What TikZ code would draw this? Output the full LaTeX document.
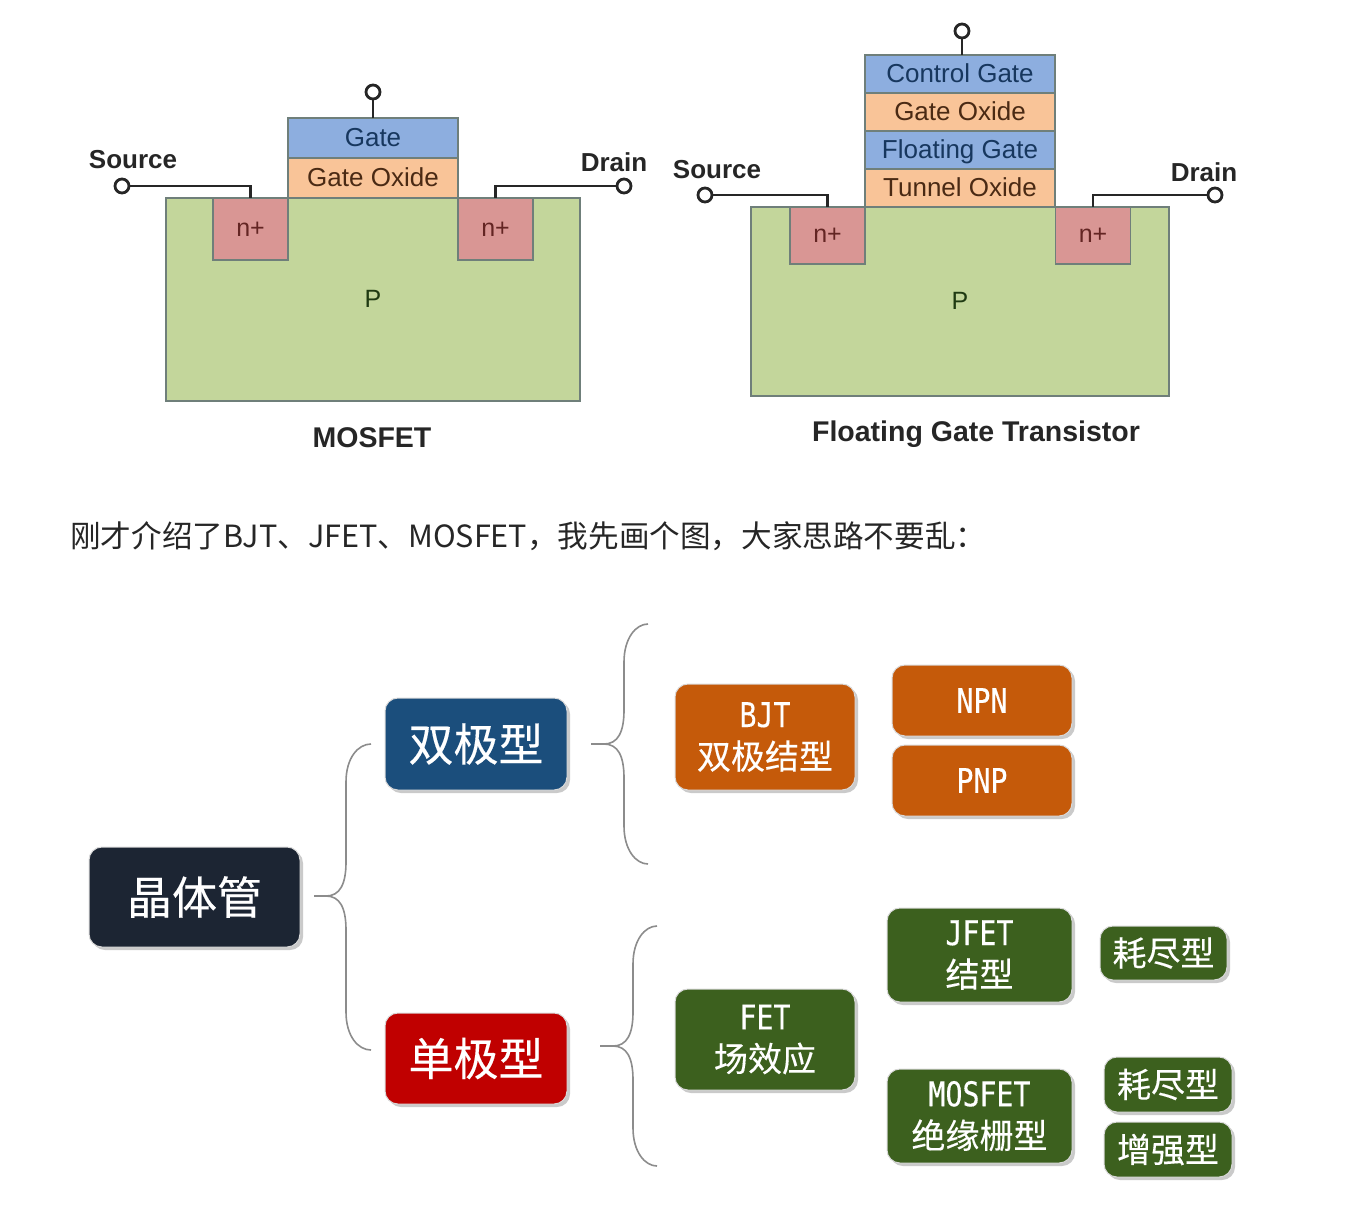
\documentclass[tikz,border=0pt]{standalone}
\usepackage{fontspec}
\setmainfont{Liberation Sans}
\newfontfamily\cjk{Noto Sans CJK SC}
\newfontfamily\cjkheavy[FakeBold=0.3]{Noto Sans CJK SC}
\newfontfamily\ltn[Scale=1.0, FakeStretch=0.83, FakeBold=0.3]{DejaVu Sans Mono}
\usetikzlibrary{calc,shadows}

\definecolor{gatecol}{HTML}{8DAEDF}
\definecolor{oxidecol}{HTML}{F9C498}
\definecolor{bulkcol}{HTML}{C3D69B}
\definecolor{dopecol}{HTML}{D99694}
\definecolor{edgecol}{HTML}{6F7F7A}
\definecolor{navycol}{HTML}{1C2533}
\definecolor{bluecol}{HTML}{1B4E7C}
\definecolor{redcol}{HTML}{C00000}
\definecolor{orangecol}{HTML}{C55A0A}
\definecolor{greencol}{HTML}{3C601E}
\definecolor{gatetext}{HTML}{17375E}
\definecolor{oxidetext}{HTML}{4A2A14}
\definecolor{dopetext}{HTML}{632523}
\definecolor{bulktext}{HTML}{1F3A12}

\tikzset{
    layer/.style={draw=edgecol, line width=1.1pt, inner sep=0pt, outer sep=0pt, font=\fontsize{26}{30}\selectfont},
    gatelayer/.style={layer, fill=gatecol, text=gatetext, text height=19pt, text depth=3pt, minimum width=#1, minimum height=38pt},
    oxidelayer/.style={layer, fill=oxidecol, text=oxidetext, text height=19pt, text depth=3pt, minimum width=#1, minimum height=38pt},
    bulk/.style={layer, fill=bulkcol, text=bulktext, text depth=1.5pt, font=\fontsize{25}{28}\selectfont},
    dope/.style={layer, fill=dopecol, text=dopetext, font=\fontsize{25}{28}\selectfont},
    terminal/.style={circle, draw=black!85, line width=2.8pt, fill=white, minimum size=14pt, inner sep=0pt},
    wire/.style={draw=black!85, line width=2.8pt},
    pinlabel/.style={font=\bfseries\fontsize{26}{30}\selectfont, text=black!85, inner sep=0pt},
    title/.style={font=\bfseries\fontsize{28.5}{32}\selectfont, text=black!85, inner sep=0pt},
    tile/.style={rounded corners=13pt, draw=white!85!black, line width=1pt, text=white, align=center, inner sep=0pt, outer sep=0pt,
        drop shadow={shadow xshift=3pt, shadow yshift=-3pt, opacity=0.35, fill=black!60}},
    bigtile/.style={tile, font=\cjkheavy\fontsize{45}{50}\selectfont},
    midtile/.style={tile, font=\cjkheavy\fontsize{34}{42}\selectfont},
    bracket/.style={draw=black!45, line width=1.6pt},
}

% tip, top end, bottom end, spine
\newcommand{\curlybrace}[4]{
    \draw[bracket] (#2) .. controls ($(#4|-#2)+(12,0)$) and ($(#4|-#2)+(0,14)$) .. ($(#4|-#2)+(0,38)$)
        -- ($(#4|-#1)+(0,-34)$) .. controls ($(#4|-#1)+(0,-12)$) and ($(#4|-#1)+(-6,0)$) .. ($(#4|-#1)+(-20,0)$)
        -- (#1) -- ($(#4|-#1)+(-20,0)$) .. controls ($(#4|-#1)+(-6,0)$) and ($(#4|-#1)+(0,12)$) .. ($(#4|-#1)+(0,34)$)
        -- ($(#4|-#3)+(0,-38)$) .. controls ($(#4|-#3)+(0,-14)$) and ($(#4|-#3)+(12,0)$) .. (#3);
}

\begin{document}
\begin{tikzpicture}[x=1pt, y=-1pt]
    \useasboundingbox (0, 0) rectangle (1346, 1216);

    % MOSFET
    \node[bulk, minimum width=414pt, minimum height=203pt] at (373, 299.5) (bulkA) {P};
    \node[dope, minimum width=75pt, minimum height=62pt] at (250.5, 229) (srcA) {n+};
    \node[dope, minimum width=75pt, minimum height=62pt] at (495.5, 229) (drnA) {n+};
    \node[oxidelayer=170pt, minimum height=40pt] at (373, 178) (oxideA) {Gate Oxide};
    \node[gatelayer=170pt, minimum height=40pt] at (373, 138) (gateA) {Gate};

    \node[terminal] at (373, 92) (gpinA) {};
    \node[terminal] at (122, 186) (spinA) {};
    \node[terminal] at (624, 186) (dpinA) {};
    \node[pinlabel] at (133, 160) (slabelA) {Source};
    \node[pinlabel] at (614, 162) (dlabelA) {Drain};
    \node[title] at (372, 438) (titleA) {MOSFET};

    \draw[wire] (gpinA) -- (gateA);
    \draw[wire] (spinA) -| (srcA.north);
    \draw[wire] (dpinA) -| (drnA.north);

    % Floating gate
    \node[bulk, minimum width=418pt, minimum height=189pt] at (960, 301.5) (bulkB) {P};
    \node[dope, minimum width=75pt, minimum height=57pt] at (827.5, 235.5) (srcB) {n+};
    \node[dope, minimum width=75pt, minimum height=57pt] at (1093, 235.5) (drnB) {n+};
    \node[gatelayer=190pt] at (960, 74) (ctrlB) {Control Gate};
    \node[oxidelayer=190pt] at (960, 112) (oxideB) {Gate Oxide};
    \node[gatelayer=190pt] at (960, 150) (floatB) {Floating Gate};
    \node[oxidelayer=190pt] at (960, 188) (tunnelB) {Tunnel Oxide};

    \node[terminal] at (962, 31) (gpinB) {};
    \node[terminal] at (705, 195) (spinB) {};
    \node[terminal] at (1215, 195) (dpinB) {};
    \node[pinlabel] at (717, 170) (slabelB) {Source};
    \node[pinlabel] at (1204, 172) (dlabelB) {Drain};
    \node[title] at (976, 434) (titleB) {Floating Gate Transistor};

    \draw[wire] (gpinB) -- (gpinB |- ctrlB.north);
    \draw[wire] (spinB) -| (srcB.north);
    \draw[wire] (dpinB) -| (drnB.north);

    % Sentence
    \node[anchor=west, inner sep=0pt, text=black!85, font=\cjk\fontsize{30.6}{36}\selectfont] at (70, 536) (intro) {刚才介绍了BJT、JFET、MOSFET，我先画个图，大家思路不要乱：};

    % Tree
    \node[bigtile, fill=navycol, minimum width=211pt, minimum height=100pt] at (194.5, 897) (root) {晶体管};
    \node[bigtile, fill=bluecol, minimum width=182pt, minimum height=92pt] at (476, 744) (bipolar) {双极型};
    \node[bigtile, fill=redcol, minimum width=182pt, minimum height=91pt] at (476, 1058.5) (unipolar) {单极型};

    \node[midtile, fill=orangecol, minimum width=180pt, minimum height=106pt] at (765, 737) (bjt) {{\ltn BJT}\\双极结型};
    \node[midtile, fill=orangecol, minimum width=180pt, minimum height=71pt] at (982, 700.5) (npn) {{\ltn NPN}};
    \node[midtile, fill=orangecol, minimum width=180pt, minimum height=71pt] at (982, 780.5) (pnp) {{\ltn PNP}};

    \node[midtile, fill=greencol, minimum width=180pt, minimum height=101pt] at (765, 1039.5) (fet) {{\ltn FET}\\场效应};
    \node[midtile, fill=greencol, minimum width=185pt, minimum height=94pt] at (979.5, 955) (jfet) {{\ltn JFET}\\结型};
    \node[midtile, fill=greencol, minimum width=185pt, minimum height=94pt] at (979.5, 1116) (mosfet) {{\ltn MOSFET}\\绝缘栅型};
    \node[midtile, fill=greencol, minimum width=127pt, minimum height=54pt] at (1163.5, 953) (depA) {耗尽型};
    \node[midtile, fill=greencol, minimum width=128pt, minimum height=55pt] at (1168, 1084.5) (depB) {耗尽型};
    \node[midtile, fill=greencol, minimum width=128pt, minimum height=55pt] at (1168, 1149.5) (enh) {增强型};

    % Braces
    \coordinate (tipA) at (314, 896);
    \coordinate (topA) at (371, 744);
    \coordinate (botA) at (371, 1050);
    \coordinate (spineA) at (346, 896);
    \coordinate (tipB) at (591, 744);
    \coordinate (topB) at (648, 624);
    \coordinate (botB) at (648, 864);
    \coordinate (spineB) at (624, 744);
    \coordinate (tipC) at (600, 1046);
    \coordinate (topC) at (657, 926);
    \coordinate (botC) at (657, 1166);
    \coordinate (spineC) at (633, 1046);

    \curlybrace{tipA}{topA}{botA}{spineA}
    \curlybrace{tipB}{topB}{botB}{spineB}
    \curlybrace{tipC}{topC}{botC}{spineC}

\end{tikzpicture}
\end{document}
